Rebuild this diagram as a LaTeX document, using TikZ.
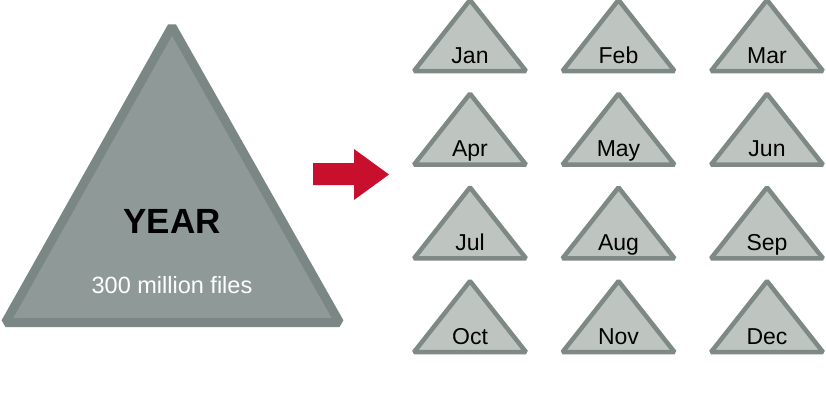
\documentclass[tikz,border=0pt]{standalone}
\usepackage{fontspec}
\setmainfont{Liberation Sans}
\usetikzlibrary{positioning}
\definecolor{yearfill}{HTML}{8F9A98}
\definecolor{yearedge}{HTML}{7B8784}
\definecolor{monthfill}{HTML}{BEC5C1}
\definecolor{monthedge}{HTML}{7E8986}
\definecolor{arrowred}{HTML}{C8102E}

\begin{document}
\begin{tikzpicture}[x=1pt, y=-1pt,
    yeartri/.style={draw=yearedge, fill=yearfill, line width=9pt, line join=bevel},
    monthtri/.style={draw=monthedge, fill=monthfill, line width=4.5pt, line join=bevel},
    monthlabel/.style={anchor=base, font=\fontsize{23}{27}\selectfont}]
    \useasboundingbox (0,0) rectangle (826,400);

    % Year
    \draw[yeartri] (172,26.5) -- (5.5,322.5) -- (339.5,322.5) -- cycle;
    \node[anchor=base, font=\bfseries\fontsize{35}{40}\selectfont] (year) at (172,233) {YEAR};
    \node[anchor=base, white, font=\fontsize{23.5}{27}\selectfont] (files) at (172,293) {300 million files};

    % Arrow
    \fill[arrowred] (313,163) -- (354,163) -- (354,149) -- (389,174.5) -- (354,200) -- (354,185) -- (313,185) -- cycle;

    % Months
    \foreach \m [count=\i from 0] in {Jan,Feb,Mar,Apr,May,Jun,Jul,Aug,Sep,Oct,Nov,Dec} {
        \pgfmathsetmacro\cx{470+148.5*mod(\i,3)}
        \pgfmathsetmacro\by{73+93.7*floor(\i/3)}
        \draw[monthtri] (\cx,\by-73) -- (\cx-56,\by-2) -- (\cx+56,\by-2) -- cycle;
        \node[monthlabel] (\m) at (\cx,\by-10) {\m};
    }
\end{tikzpicture}
\end{document}
